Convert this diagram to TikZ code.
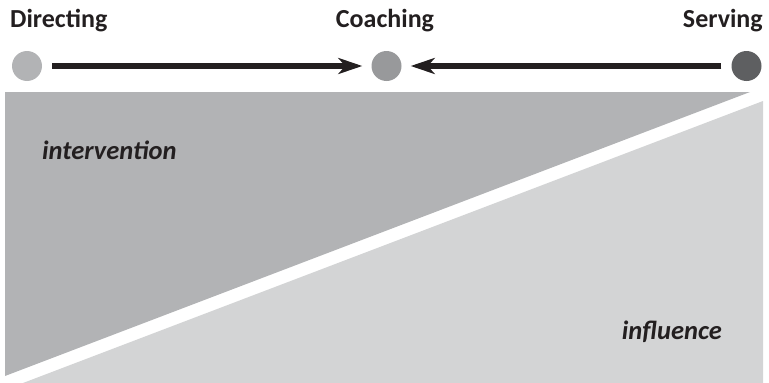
\documentclass[tikz,border=0pt]{standalone}
\usepackage{fontspec}
\setmainfont{Carlito}
\usetikzlibrary{arrows.meta}
\definecolor{inkdark}{HTML}{231F20}
\definecolor{zonedark}{HTML}{B2B3B5}
\definecolor{zonelight}{HTML}{D3D4D5}
\definecolor{dotlight}{HTML}{B2B3B5}
\definecolor{dotmid}{HTML}{98999B}
\definecolor{dotdark}{HTML}{5E5F61}
\tikzset{
  stagelabel/.style={font=\fontsize{26}{30}\selectfont\bfseries, text=inkdark, inner sep=0pt},
  zonelabel/.style={font=\fontsize{26.5}{30}\selectfont\bfseries\itshape, text=inkdark, inner sep=0pt},
  stagedot/.style={circle, minimum size=30pt, inner sep=0pt},
  pullarrow/.style={draw=inkdark, line width=5.5pt, -{Stealth[length=24pt, width=16pt, inset=7pt]}}
}
\begin{document}
\begin{tikzpicture}[x=1pt, y=-1pt]
  \useasboundingbox (0,0) rectangle (769,383);
  % two zones split by a white diagonal band
  \fill[zonedark] (5,92) -- (750,92) -- (5,376) -- cycle;
  \fill[zonelight] (763,101) -- (763,383) -- (23,383) -- cycle;
  % stage labels
  \node[stagelabel, anchor=base west] (ldir) at (10,27) {Directing};
  \node[stagelabel, anchor=base] (lcoach) at (385,27) {Coaching};
  \node[stagelabel, anchor=base east] (lserve) at (763,27) {Serving};
  % stage dots
  \node[stagedot, fill=dotlight] (dir) at (27,66) {};
  \node[stagedot, fill=dotmid] (coach) at (386.5,66) {};
  \node[stagedot, fill=dotdark] (serve) at (746.5,66) {};
  % arrows converging on the middle stage
  \draw[pullarrow, shorten <=10pt, shorten >=9pt] (dir) -- (coach);
  \draw[pullarrow, shorten <=10pt, shorten >=9pt] (serve) -- (coach);
  % zone labels
  \node[zonelabel, anchor=base west] (linter) at (42,159) {intervention};
  \node[zonelabel, anchor=base east] (linfl) at (722,339) {influence};
\end{tikzpicture}
\end{document}
